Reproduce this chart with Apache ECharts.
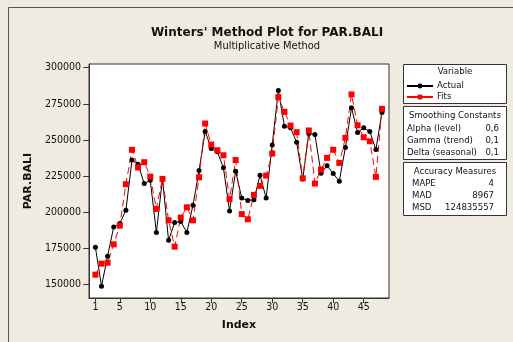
<!DOCTYPE html>
<html><head><meta charset="utf-8">
<script src="https://cdn.jsdelivr.net/npm/echarts@6/dist/echarts.min.js"></script>
<style>html,body{margin:0;padding:0;background:#EFEBE1;}#c{width:513px;height:342px;}</style>
</head><body><div id="c"></div>
<script>
const indexValues = [1,2,3,4,5,6,7,8,9,10,11,12,13,14,15,16,17,18,19,20,21,22,23,24,25,26,27,28,29,30,31,32,33,34,35,36,37,38,39,40,41,42,43,44,45,46,47,48];
const actual = [175500,148500,169300,189600,191900,201100,236000,233000,219700,221900,185800,223000,180300,192600,193300,185800,204600,228700,255800,244000,241700,230600,200600,228200,209700,207900,208500,225400,209700,246500,284200,259500,258300,248300,222900,254400,253700,226800,232000,226600,221300,244700,272200,255100,258300,255800,243300,269000];
const fits = [156500,164100,164800,177500,190500,219200,243100,230800,234500,224500,202100,222900,194200,175900,196100,203200,194200,224000,261300,246700,242800,239300,208900,236000,198500,194900,211800,218100,225200,240500,279600,269400,259900,255300,223300,256500,219700,229400,237500,243100,234000,251400,281500,260100,251800,249000,224300,271500];
const xTicks = [1,5,10,15,20,25,30,35,40,45];
const yTicks = [150000,175000,200000,225000,250000,275000,300000];
const smoothing = [["Alpha (level)","0,6"],["Gamma (trend)","0,1"],["Delta (seasonal)","0,1"]];
const accuracy = [["MAPE","4"],["MAD","8967"],["MSD","124835557"]];

const FONT = "DejaVu Sans";
const CFONT = "DejaVu Sans Condensed";
const chart = echarts.init(document.getElementById('c'));
const g = [];
g.push({type:'rect', shape:{x:8.5,y:7.5,width:520,height:350}, style:{fill:'#EFEBE1',stroke:'#555',lineWidth:1}, z:-10});
g.push({type:'rect', shape:{x:403.5,y:64.5,width:103,height:39}, style:{fill:'#fff',stroke:'#333',lineWidth:1}});
g.push({type:'rect', shape:{x:403.5,y:106.5,width:103,height:53}, style:{fill:'#fff',stroke:'#333',lineWidth:1}});
g.push({type:'rect', shape:{x:403.5,y:162.5,width:103,height:53}, style:{fill:'#fff',stroke:'#333',lineWidth:1}});
const ts = (t,x,y,align)=>({type:'text', x:x, y:y, style:{text:t, fill:'#111', font:'9.5px "'+CFONT+'"', textAlign:align, textVerticalAlign:'middle'}, z:10});
g.push(ts('Variable',455,72,'center'));
g.push(ts('Smoothing Constants',455,116,'center'));
smoothing.forEach((r,i)=>{ g.push(ts(r[0],407,129+i*11.8,'left')); g.push(ts(r[1],499,129+i*11.8,'right')); });
g.push(ts('Accuracy Measures',455,172,'center'));
accuracy.forEach((r,i)=>{ g.push(ts(r[0],412,183.5+i*12.2,'left')); g.push(ts(r[1],494,183.5+i*12.2,'right')); });

chart.setOption({
  animation:false,
  backgroundColor:'transparent',
  title:{text:"Winters' Method Plot for PAR.BALI", subtext:'Multiplicative Method', left:262, top:22, textAlign:'center', itemGap:2,
    textStyle:{fontFamily:FONT, fontSize:12, fontWeight:'bold', color:'#111'},
    subtextStyle:{fontFamily:CFONT, fontSize:11, color:'#111'}},
  legend:{data:['Actual','Fits'], orient:'vertical', left:406, top:81, padding:0, itemWidth:26, itemHeight:6, itemGap:1,
    textStyle:{fontFamily:CFONT, fontSize:9.5, color:'#111', padding:[0,0,0,-1]}, lineStyle:{type:'solid'}},
  grid:{left:89, top:64, width:300, height:234, show:true, backgroundColor:'#fff', borderColor:'#333', borderWidth:1},
  xAxis:{type:'value', min:-0.05, max:49.15, name:'Index', nameLocation:'middle', nameGap:22,
    nameTextStyle:{fontFamily:FONT, fontSize:11, fontWeight:'bold', color:'#111'},
    axisLine:{show:true, lineStyle:{color:'#333'}}, splitLine:{show:false},
    axisTick:{show:true, length:5, customValues:xTicks, lineStyle:{color:'#333'}},
    axisLabel:{customValues:xTicks, fontFamily:CFONT, fontSize:10.5, color:'#111', margin:4}},
  yAxis:{type:'value', min:140300, max:302600, name:'PAR.BALI', nameLocation:'middle', nameGap:50, nameRotate:90,
    nameTextStyle:{fontFamily:FONT, fontSize:11, fontWeight:'bold', color:'#111'},
    axisLine:{show:true, lineStyle:{color:'#333'}}, splitLine:{show:false},
    axisTick:{show:true, length:6, customValues:yTicks, lineStyle:{color:'#333'}},
    axisLabel:{customValues:yTicks, formatter:v=>String(v), fontFamily:CFONT, fontSize:10.5, color:'#111', margin:8}},
  series:[
    {name:'Actual', type:'line', data:indexValues.map((x,i)=>[x,actual[i]]), symbol:'circle', symbolSize:5,
      itemStyle:{color:'#000'}, lineStyle:{color:'#000', width:1}},
    {name:'Fits', type:'line', data:indexValues.map((x,i)=>[x,fits[i]]), symbol:'rect', symbolSize:6,
      itemStyle:{color:'#f00'}, lineStyle:{color:'#f00', width:1, type:[7,4]}}
  ],
  graphic:g
});
</script></body></html>
